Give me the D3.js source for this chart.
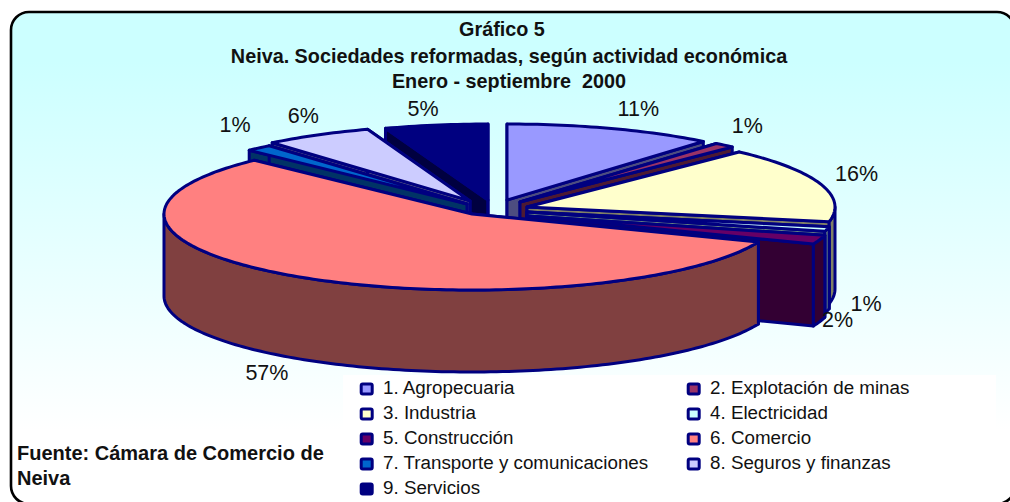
<!DOCTYPE html>
<html>
<head>
	<meta charset="utf-8">
	<title>Gráfico 5</title>
	<style type="text/css">
		html, body { margin: 0; padding: 0; background: #fff; overflow: hidden; }
		svg { display: block; font-family: "Liberation Sans", Arial, sans-serif; }
	</style>
	<script src="https://d3js.org/d3.v7.min.js"></script>
</head>
<body>
<script type="text/javascript">
	var titleLines = ["Gráfico 5", "Neiva. Sociedades reformadas, según actividad económica", "Enero - septiembre  2000"];
	var categories = ["1. Agropecuaria", "2. Explotación de minas", "3. Industria", "4. Electricidad", "5. Construcción", "6. Comercio", "7. Transporte y comunicaciones", "8. Seguros y finanzas", "9. Servicios"];
	var shares = [11, 1.1, 16, 1, 1.9, 56.5, 1.4, 5.7, 5.4];
	var sourceLines = ["Fuente: Cámara de Comercio de", "Neiva"];

	// how far each slice is pulled out of the centre, and label nudges from the rim
	var explode = [[13, -10], [26, -8], [33, -3], [33, 2], [33, 6], [-22, 4], [-27, -6], [-24, -9], [-6, -10]];
	var labelNudge = [[27, -20], [23, -20], [36, -10], [39, 74], [18, 80], [-36, 95], [-24, -23], [-14, -20], [-13, -17]];
	var colors = ["#9999FF", "#993366", "#FFFFCC", "#CCFFFF", "#660066", "#FF8080", "#0066CC", "#CCCCFF", "#000080"];
	var drawOrder = [8, 0, 1, 2, 3, 4, 7, 6, 5];

	var width = 1010, height = 502,
		cx = 494, cy = 210, rx = 308, ry = 76, depth = 82,
		edge = "#000080";

	var svg = d3.select("body").append("svg")
		.attr("width", width)
		.attr("height", height);

	var grad = svg.append("defs").append("linearGradient")
		.attr("id", "bg")
		.attr("x1", 0).attr("y1", 0).attr("x2", 0).attr("y2", 1);
	grad.append("stop").attr("offset", "10%").attr("stop-color", "#CCFFFF");
	grad.append("stop").attr("offset", "85%").attr("stop-color", "#FFFFFF");

	svg.append("rect")
		.attr("x", 11).attr("y", 12)
		.attr("width", 1004).attr("height", 492)
		.attr("rx", 18).attr("ry", 18)
		.attr("fill", "url(#bg)");

	// legend background
	svg.append("rect")
		.attr("x", 343).attr("y", 375)
		.attr("width", 653).attr("height", 127)
		.attr("fill", "#fff");

	var color = d3.scaleOrdinal().domain(categories).range(colors);
	var px = d3.scaleLinear().domain([-1, 1]).range([-rx, rx]),
		py = d3.scaleLinear().domain([-1, 1]).range([-ry, ry]);
	var line = d3.line();

	var pie = d3.pie().sort(null).value(function(d) { return d; });
	var arcs = pie(shares);

	arcs.forEach(function(a, i) {
		a.mid = (a.startAngle + a.endAngle) / 2;
		a.ox = cx + explode[i][0];
		a.oy = cy + explode[i][1];
	});

	function rim(a, t) {
		return [a.ox + px(Math.sin(t)), a.oy + py(-Math.cos(t))];
	}

	function arcPoints(a, from, to) {
		var n = Math.max(2, Math.ceil(Math.abs(to - from) / 0.02));
		return d3.range(n + 1).map(function(k) {
			return rim(a, from + (to - from) * k / n);
		});
	}

	function down(p) { return [p[0], p[1] + depth]; }

	// half brightness, like the side faces of the original
	function wallColor(c) {
		var r = d3.rgb(c);
		return d3.rgb(r.r / 2, r.g / 2, r.b / 2).formatHex();
	}

	function radialWall(a, t) {
		var o = [a.ox, a.oy], p = rim(a, t);
		return line([o, p, down(p), down(o)]) + "Z";
	}

	var g = svg.append("g")
		.attr("stroke", edge)
		.attr("stroke-width", 3)
		.attr("stroke-linejoin", "round");

	drawOrder.forEach(function(i) {
		var a = arcs[i], fill = color(categories[i]), side = wallColor(fill);
		var s = g.append("g");

		// radial cut faces
		[a.startAngle, a.endAngle].forEach(function(t) {
			s.append("path").attr("d", radialWall(a, t)).attr("fill", side);
		});

		// outer rim only where it faces the viewer
		var from = Math.max(a.startAngle, Math.PI / 2),
			to = Math.min(a.endAngle, Math.PI * 1.5);
		if (to > from) {
			var top = arcPoints(a, from, to);
			s.append("path")
				.attr("d", line(top.concat(top.slice().reverse().map(down))) + "Z")
				.attr("fill", side);
		}

		s.append("path")
			.attr("d", line([[a.ox, a.oy]].concat(arcPoints(a, a.startAngle, a.endAngle))) + "Z")
			.attr("fill", fill);
	});

	// percentage labels
	svg.append("g").selectAll("text")
		.data(arcs)
		.enter().append("text")
			.attr("x", function(d, i) { return rim(d, d.mid)[0] + labelNudge[i][0]; })
			.attr("y", function(d, i) { return rim(d, d.mid)[1] + labelNudge[i][1]; })
			.attr("dy", "0.35em")
			.attr("text-anchor", "middle")
			.attr("font-size", 21.5)
			.attr("fill", "#111")
			.text(function(d) { return Math.round(d.value) + "%"; });

	// title, the first line sits a little left in the original
	svg.append("g").selectAll("text")
		.data(titleLines)
		.enter().append("text")
			.attr("x", function(d, i) { return i ? 509 : 502; })
			.attr("y", function(d, i) { return [36, 63, 88][i]; })
			.attr("text-anchor", "middle")
			.attr("font-size", 19.8)
			.attr("font-weight", "bold")
			.attr("fill", "#111")
			.style("white-space", "pre")
			.text(function(d) { return d; });

	// legend, filled row by row in two columns
	var legend = svg.append("g").selectAll("g")
		.data(categories)
		.enter().append("g")
			.attr("transform", function(d, i) {
				return "translate(" + (i % 2 ? 687 : 360) + "," + (388.5 + Math.floor(i / 2) * 25) + ")";
			});
	legend.append("rect")
		.attr("x", 1.2).attr("y", -4.5)
		.attr("width", 11).attr("height", 10)
		.attr("rx", 1.5)
		.attr("fill", function(d) { return color(d); })
		.attr("stroke", edge)
		.attr("stroke-width", 3);
	legend.append("text")
		.attr("x", 23)
		.attr("y", 5.5)
		.attr("font-size", 18.8)
		.attr("fill", "#111")
		.text(function(d) { return d; });

	// source note
	svg.append("g").selectAll("text")
		.data(sourceLines)
		.enter().append("text")
			.attr("x", 17)
			.attr("y", function(d, i) { return 460 + i * 25; })
			.attr("font-size", 20)
			.attr("font-weight", "bold")
			.attr("fill", "#111")
			.text(function(d) { return d; });

	// frame goes last so it sits over the legend box
	svg.append("rect")
		.attr("x", 11).attr("y", 12)
		.attr("width", 1004).attr("height", 492)
		.attr("rx", 18).attr("ry", 18)
		.attr("fill", "none")
		.attr("stroke", "#000")
		.attr("stroke-width", 2.6);
</script>
</body>
</html>
